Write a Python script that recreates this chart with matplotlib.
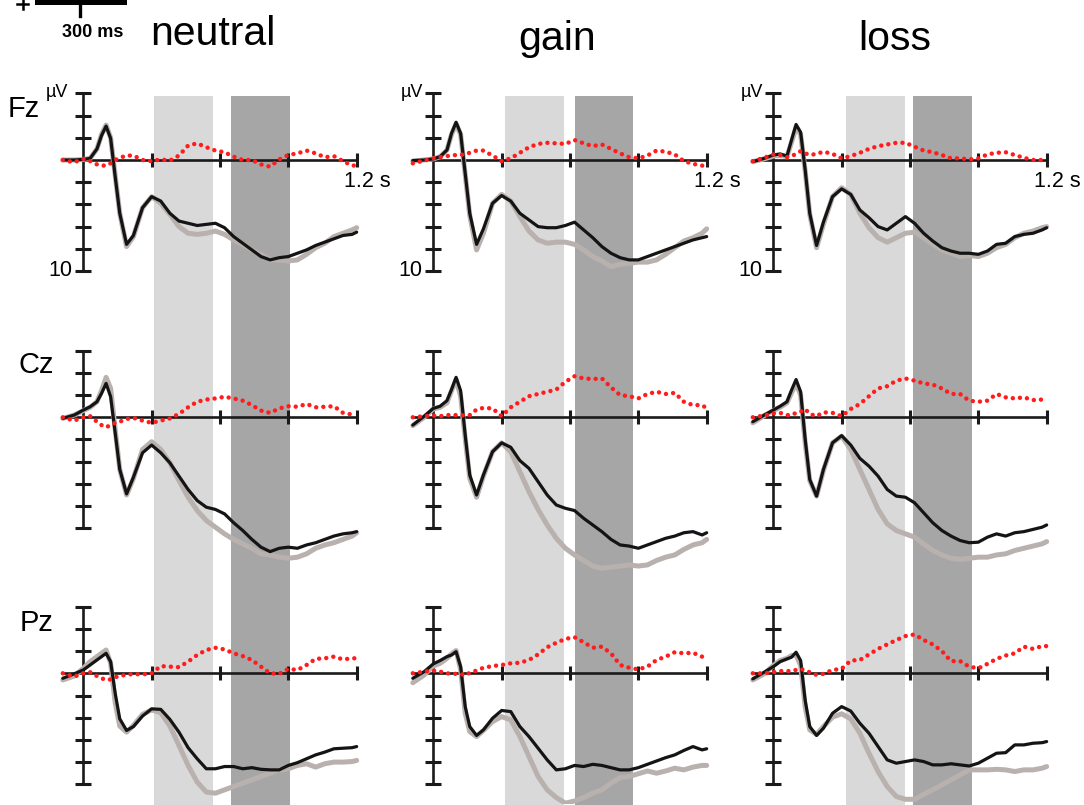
import numpy as np
import matplotlib
matplotlib.use('Agg')
from matplotlib import pyplot
from matplotlib.lines import Line2D
from matplotlib.patches import Rectangle

pyplot.rcParams['font.family'] = ['Liberation Sans', 'DejaVu Sans']

# ---- data (µV) ----
conditions = ['neutral', 'gain', 'loss']
electrodes = ['Fz', 'Cz', 'Pz']
t = [-0.09, -0.04, 0.00, 0.03, 0.06, 0.08, 0.10, 0.12, 0.14, 0.16, 0.19, 0.22, 0.26,
     0.30, 0.34, 0.38, 0.42, 0.46, 0.50, 0.54, 0.58, 0.62, 0.66, 0.70, 0.74, 0.78,
     0.82, 0.86, 0.90, 0.94, 0.98, 1.02, 1.06, 1.10, 1.14, 1.18, 1.20]

fz_neutral_black = [0, 0, 0.05, 0.15, 1.0, 2.2, 3.05, 1.95, -1.5, -4.8, -7.6, -6.8, -4.3, -3.3, -3.7, -4.8, -5.5, -5.7, -5.9, -5.8, -5.7, -6.1, -6.9, -7.5, -8.1, -8.7, -9.0, -8.8, -8.7, -8.4, -8.1, -7.7, -7.4, -7.1, -6.8, -6.7, -6.5]
fz_neutral_gray = [0, 0, 0.05, 0.15, 1.0, 2.3, 3.15, 2.0, -1.4, -4.8, -7.8, -6.9, -4.3, -3.3, -3.9, -4.9, -6.0, -6.6, -6.7, -6.6, -6.4, -6.7, -7.2, -7.6, -8.1, -8.5, -9.0, -9.0, -9.1, -9.0, -8.5, -7.9, -7.5, -6.9, -6.6, -6.3, -6.1]
fz_neutral_diff = [0, -0.2, 0.1, -0.1, -0.4, -0.5, -0.5, -0.3, 0, 0.2, 0.4, 0.4, 0, -0.1, 0.05, -0.05, 0.4, 1.3, 1.5, 1.15, 0.85, 0.7, 0.3, 0, 0, -0.4, -0.6, 0.05, 0.45, 0.6, 0.85, 0.6, 0.25, 0.35, -0.1, -0.5, -0.5]

fz_gain_black = [-0.05, 0, 0.1, 0.3, 0.9, 2.4, 3.4, 2.4, -1.2, -4.8, -7.6, -6.2, -3.9, -3.2, -3.7, -4.8, -5.4, -6.0, -6.1, -6.1, -5.9, -5.6, -6.3, -7.0, -7.8, -8.4, -8.8, -9.0, -9.0, -8.7, -8.4, -8.1, -7.8, -7.5, -7.2, -7.0, -6.9]
fz_gain_gray = [-0.1, 0, 0.1, 0.3, 0.9, 2.3, 3.25, 2.3, -1.3, -5.0, -8.1, -6.6, -3.9, -3.1, -3.7, -5.1, -6.4, -7.2, -7.5, -7.4, -7.4, -7.6, -8.1, -8.7, -9.1, -9.6, -9.4, -9.3, -9.2, -9.2, -9.0, -8.5, -7.9, -7.3, -7.0, -6.6, -6.2]
fz_gain_diff = [-0.3, -0.05, 0.15, 0.25, 0.35, 0.4, 0.45, 0.45, 0.55, 0.65, 0.85, 0.85, 0.4, -0.1, 0.15, 0.65, 1.15, 1.45, 1.55, 1.5, 1.45, 1.8, 1.5, 1.25, 1.4, 1.0, 0.6, 0.25, 0.15, 0.4, 0.85, 0.75, 0.5, -0.1, -0.35, -0.5, -0.85]

fz_loss_black = [-0.15, 0.15, 0.45, 0.55, 0.35, 1.8, 3.2, 2.5, -0.9, -4.8, -7.7, -5.6, -3.3, -2.6, -3.1, -4.5, -5.2, -6.0, -6.3, -5.7, -5.1, -5.7, -6.6, -7.3, -7.9, -8.2, -8.4, -8.4, -8.5, -8.2, -7.6, -7.5, -6.9, -6.7, -6.6, -6.3, -6.1]
fz_loss_gray = [-0.15, 0.1, 0.35, 0.4, 0.3, 1.6, 2.95, 2.3, -1.0, -4.9, -7.9, -5.8, -3.3, -2.5, -3.1, -4.8, -6.1, -7.0, -7.4, -7.0, -6.6, -6.5, -7.0, -7.6, -8.1, -8.4, -8.7, -8.6, -8.7, -8.4, -7.9, -7.6, -7.0, -6.6, -6.4, -6.1, -6.0]
fz_loss_diff = [-0.1, 0.2, 0.5, 0.45, 0.25, 0.35, 0.55, 0.8, 0.6, 0.45, 0.55, 0.75, 0.55, 0.15, 0.35, 0.65, 1.0, 1.25, 1.4, 1.55, 1.55, 1.2, 0.85, 0.7, 0.45, 0.15, 0.15, 0.05, 0.15, 0.5, 0.65, 0.7, 0.45, 0.2, 0, 0, 0]

cz_neutral_black = [-0.1, 0.2, 0.65, 0.95, 1.4, 2.15, 3.05, 1.85, -1.4, -4.7, -6.9, -5.4, -3.2, -2.5, -3.2, -4.1, -5.3, -6.5, -7.5, -8.1, -8.3, -8.7, -9.5, -10.2, -11.0, -11.7, -12.1, -11.8, -11.7, -11.8, -11.5, -11.3, -11.0, -10.7, -10.5, -10.4, -10.3]
cz_neutral_gray = [-0.1, 0.2, 0.6, 0.9, 1.4, 2.4, 3.6, 2.6, -1.1, -4.7, -7.0, -5.5, -2.9, -2.2, -2.9, -4.1, -5.7, -7.2, -8.4, -9.3, -9.9, -10.5, -11.0, -11.4, -11.8, -12.3, -12.4, -12.6, -12.7, -12.6, -12.3, -11.8, -11.5, -11.3, -11.0, -10.7, -10.4]
cz_neutral_diff = [0, -0.3, 0, 0.1, -0.4, -0.7, -0.9, -0.7, -0.5, -0.4, -0.15, -0.05, -0.3, -0.5, -0.3, -0.1, 0.3, 0.9, 1.4, 1.6, 1.7, 1.85, 1.7, 1.5, 1.1, 0.6, 0.4, 0.8, 1.0, 0.95, 1.2, 0.9, 0.95, 1.0, 0.4, 0.25, 0.2]

cz_gain_black = [-0.7, 0.1, 0.8, 1.0, 1.5, 2.5, 3.6, 2.4, -1.6, -5.2, -7.0, -5.2, -3.1, -2.3, -2.7, -3.9, -4.6, -5.8, -7.0, -7.9, -8.2, -8.4, -9.1, -9.7, -10.3, -11.0, -11.5, -11.6, -11.8, -11.5, -11.2, -10.9, -10.7, -10.4, -10.3, -10.6, -10.4]
cz_gain_gray = [-0.75, 0, 0.75, 0.9, 1.3, 2.4, 3.4, 1.9, -1.9, -5.5, -7.2, -5.3, -3.1, -2.3, -3.1, -4.9, -6.7, -8.3, -9.7, -10.9, -11.8, -12.4, -12.9, -13.4, -13.6, -13.5, -13.4, -13.3, -13.4, -13.3, -12.9, -12.6, -12.4, -11.9, -11.5, -11.3, -11.0]
cz_gain_diff = [0, 0.1, 0.15, 0.1, 0.2, 0.2, 0.2, 0.15, 0.2, 0.2, 0.7, 0.85, 0.8, 0.1, 0.9, 1.4, 1.9, 2.1, 2.3, 2.5, 3.2, 3.7, 3.5, 3.45, 3.5, 2.7, 2.0, 1.9, 1.7, 2.1, 2.3, 2.1, 2.2, 1.4, 1.1, 1.1, 0.8]

cz_loss_black = [-0.4, 0.2, 0.65, 1.0, 1.4, 2.45, 3.4, 2.3, -2.0, -5.6, -7.1, -4.7, -2.3, -1.65, -2.5, -3.7, -4.4, -5.3, -6.5, -7.1, -7.2, -7.7, -8.6, -9.5, -10.2, -10.7, -11.1, -11.3, -11.25, -10.8, -10.5, -10.7, -10.4, -10.3, -10.1, -9.9, -9.7]
cz_loss_gray = [-0.5, 0.15, 0.6, 0.9, 1.3, 2.2, 3.05, 2.0, -2.3, -5.7, -7.1, -4.8, -2.3, -1.7, -2.9, -4.7, -6.5, -8.3, -9.6, -10.2, -10.5, -10.8, -11.4, -12.0, -12.4, -12.7, -12.8, -12.7, -12.6, -12.6, -12.4, -12.3, -12.0, -11.8, -11.6, -11.4, -11.2]
cz_loss_diff = [0, 0.15, 0.35, 0.4, 0.2, 0.2, 0.4, 0.5, 0.75, 0.3, 0.1, 0.45, 0.4, 0.1, 0.75, 1.2, 1.9, 2.6, 2.8, 3.3, 3.5, 3.3, 3.05, 2.95, 2.6, 2.1, 2.1, 1.5, 1.4, 1.5, 2.1, 1.8, 1.7, 1.8, 1.55, 1.6, 1.7]

pz_neutral_black = [-0.45, -0.05, 0.3, 0.75, 1.2, 1.5, 1.8, 1.05, -1.8, -4.1, -5.15, -4.8, -3.85, -3.2, -3.25, -4.15, -5.3, -6.7, -7.7, -8.6, -8.6, -8.4, -8.4, -8.6, -8.5, -8.65, -8.7, -8.7, -8.3, -8.05, -7.7, -7.35, -7.1, -6.8, -6.75, -6.7, -6.6]
pz_neutral_gray = [-0.6, -0.25, 0.45, 1.05, 1.5, 1.8, 2.1, 0.9, -2.65, -4.75, -5.3, -4.7, -3.7, -3.3, -3.55, -4.75, -6.5, -8.3, -9.8, -10.7, -10.8, -10.5, -10.2, -9.9, -9.6, -9.3, -9.0, -8.7, -8.6, -8.3, -8.15, -8.45, -8.15, -8.0, -8.0, -7.95, -7.85]
pz_neutral_diff = [0, -0.3, 0, 0.1, -0.25, -0.45, -0.6, -0.55, -0.35, -0.25, -0.12, -0.07, -0.1, 0, 0.65, 0.6, 0.55, 1.05, 1.65, 2.1, 2.3, 2.15, 1.8, 1.55, 1.2, 0.6, 0, -0.05, 0.4, 0.3, 0.75, 1.3, 1.35, 1.5, 1.25, 1.35, 1.35]

pz_gain_black = [-0.45, 0.15, 0.85, 1.15, 1.5, 1.65, 1.95, 0.6, -3.0, -4.8, -5.6, -5.1, -4.05, -3.35, -3.45, -4.8, -5.7, -6.75, -7.8, -8.7, -8.6, -8.3, -8.4, -8.2, -8.3, -8.5, -8.7, -8.7, -8.5, -8.2, -7.9, -7.6, -7.35, -6.95, -6.6, -6.9, -6.8]
pz_gain_gray = [-0.85, -0.15, 0.65, 0.9, 1.35, 1.75, 2.05, 0.3, -3.6, -5.25, -5.7, -5.15, -4.35, -3.9, -4.2, -5.7, -7.5, -9.3, -10.5, -11.2, -11.7, -11.5, -11.2, -10.8, -10.5, -9.9, -9.4, -9.3, -9.05, -8.8, -9.0, -8.8, -8.55, -8.7, -8.45, -8.3, -8.3]
pz_gain_diff = [0, 0.15, 0.25, 0.15, 0, -0.05, -0.05, -0.05, -0.2, 0.05, 0.25, 0.5, 0.65, 0.75, 0.9, 0.95, 1.2, 1.7, 2.35, 2.75, 3.1, 3.25, 2.8, 2.3, 2.4, 1.8, 0.75, 0.5, 0.35, 0.6, 1.2, 1.5, 1.9, 1.8, 1.85, 1.5, 1.4]

pz_loss_black = [-0.5, 0.1, 0.6, 1.05, 1.3, 1.45, 1.9, 1.15, -2.45, -4.8, -5.6, -4.95, -3.6, -3.0, -3.4, -4.5, -5.4, -6.6, -7.8, -8.1, -7.95, -7.8, -7.95, -8.25, -8.25, -8.15, -8.25, -8.35, -8.1, -7.65, -7.2, -7.15, -6.45, -6.45, -6.3, -6.25, -6.15]
pz_loss_gray = [-0.6, -0.05, 0.7, 1.15, 1.35, 1.6, 1.65, 0.7, -3.05, -5.1, -5.5, -4.8, -3.95, -3.65, -4.1, -5.4, -7.2, -8.85, -10.2, -11.1, -11.35, -11.35, -10.9, -10.5, -10.05, -9.6, -9.15, -8.7, -8.7, -8.7, -8.65, -8.7, -8.85, -8.7, -8.7, -8.55, -8.4]
pz_loss_diff = [0, 0, 0.1, 0.2, 0.2, 0.2, 0.3, 0.4, 0.25, 0.1, -0.15, -0.05, 0.3, 0.4, 1.15, 1.2, 1.7, 2.2, 2.6, 3.0, 3.35, 3.5, 3.0, 2.6, 2.0, 1.1, 1.1, 0.6, 0.45, 0.85, 1.3, 1.6, 1.8, 2.4, 2.2, 2.45, 2.45]

# analysis windows (s) per condition
win_early = [(0.312, 0.571), (0.316, 0.574), (0.319, 0.578)]
win_late = [(0.648, 0.907), (0.620, 0.878), (0.615, 0.871)]

waves = [
	[(fz_neutral_black, fz_neutral_gray, fz_neutral_diff), (fz_gain_black, fz_gain_gray, fz_gain_diff), (fz_loss_black, fz_loss_gray, fz_loss_diff)],
	[(cz_neutral_black, cz_neutral_gray, cz_neutral_diff), (cz_gain_black, cz_gain_gray, cz_gain_diff), (cz_loss_black, cz_loss_gray, cz_loss_diff)],
	[(pz_neutral_black, pz_neutral_gray, pz_neutral_diff), (pz_gain_black, pz_gain_gray, pz_gain_diff), (pz_loss_black, pz_loss_gray, pz_loss_diff)],
]

# ---- layout (pixels) ----
W, H = 1084, 805
zero_x = [83.3, 433.3, 773.3]
zero_y = [160.0, 417.3, 673.3]
px_s = 227.8
px_uv = 11.1
xlim = (-0.15, 1.25)
ylims = [(-12, 7.5), (-14.5, 7.5), (-11.8, 7.5)]
shade_top = 96

def box(x0, y0, w, h):
	return [x0/W, 1 - (y0 + h)/H, w/W, h/H]

def fxy(x, y):
	return x/W, 1 - y/H

pyplot.close('all')
fig = pyplot.figure(figsize=(W/100, H/100), dpi=100)
axw = (xlim[1] - xlim[0])*px_s

# shaded windows spanning the whole column
for c in range(3):
	left = zero_x[c] + xlim[0]*px_s
	bg = fig.add_axes(box(left, shade_top, axw, H - shade_top))
	bg.set_xlim(xlim); bg.set_ylim(0, 1); bg.axis('off')
	bg.axvspan(*win_early[c], color='#d9d9d9', lw=0)
	bg.axvspan(*win_late[c], color='#a6a6a6', lw=0)

for r in range(3):
	y0, y1 = ylims[r]
	for c in range(3):
		left = zero_x[c] + xlim[0]*px_s
		top = zero_y[r] - y1*px_uv
		ax = fig.add_axes(box(left, top, axw, (y1 - y0)*px_uv))
		ax.patch.set_visible(False)
		black, gray, diff = waves[r][c]
		ax.plot(t, gray, color='#b9b1ae', lw=3.6, zorder=3, solid_capstyle='round', solid_joinstyle='round')
		ax.plot(t, black, color='#141414', lw=2.3, zorder=4, solid_capstyle='round', solid_joinstyle='round')
		ax.plot(t, diff, color='#ff1c1c', lw=3.2, ls=(0, (0.01, 1.6)), dash_capstyle='round', zorder=5)
		ax.set_xlim(xlim); ax.set_ylim(y0, y1)
		for s in ['top', 'right']:
			ax.spines[s].set_visible(False)
		ax.spines['left'].set_position(('data', 0))
		ax.spines['bottom'].set_position(('data', 0))
		ax.spines['left'].set_bounds(-10, 6)
		ax.spines['bottom'].set_bounds(-0.09, 1.2)
		for s in ['left', 'bottom']:
			ax.spines[s].set_linewidth(1.9)
			ax.spines[s].set_color('#1a1a1a')
		ax.set_xticks([0.3, 0.6, 0.9, 1.2])
		ax.set_yticks([-10, -8, -6, -4, -2, 2, 4, 6])
		ax.tick_params(axis='x', direction='inout', length=9.5, width=2.2, color='#1a1a1a', labelbottom=False)
		ax.tick_params(axis='y', direction='inout', length=11, width=2.2, color='#1a1a1a', labelleft=False)
		if r == 0:
			tx = zero_x[c]
			fig.text(*fxy(tx - (38 if c == 0 else 33), 97), u'\u00b5V', fontsize=13, ha='left', va='baseline')
			fig.text(*fxy(tx - 35, 276), '10', fontsize=15.5, ha='left', va='baseline')
			fig.text(*fxy(tx + 261, 187), '1.2 s', fontsize=15.5, ha='left', va='baseline')

# column titles
fig.text(*fxy(213, 45), conditions[0], fontsize=29.5, ha='center', va='baseline')
fig.text(*fxy(557, 50), conditions[1], fontsize=29.5, ha='center', va='baseline')
fig.text(*fxy(895, 50), conditions[2], fontsize=29.5, ha='center', va='baseline')

# electrode labels
for name, (lx, ly) in zip(electrodes, [(8, 117), (18, 373), (20, 631)]):
	fig.text(*fxy(lx, ly), name, fontsize=21, ha='left', va='baseline')

# scale bar remnant at top left
fig.add_artist(Rectangle(fxy(35, 5), 92/W, 8/H, transform=fig.transFigure, color='black', lw=0))
fig.add_artist(Line2D([80/W, 80/W], [1 - 4/H, 1 - 16/H], transform=fig.transFigure, color='black', lw=2.4))
fig.add_artist(Line2D([17/W, 28/W], [1 - 4.5/H, 1 - 4.5/H], transform=fig.transFigure, color='black', lw=1.8))
fig.add_artist(Line2D([22.5/W, 22.5/W], [1 + 2/H, 1 - 9/H], transform=fig.transFigure, color='black', lw=1.8))
fig.text(*fxy(62, 37), '300 ms', fontsize=13, fontweight='bold', ha='left', va='baseline')

fig.savefig('out.png', dpi=100)
